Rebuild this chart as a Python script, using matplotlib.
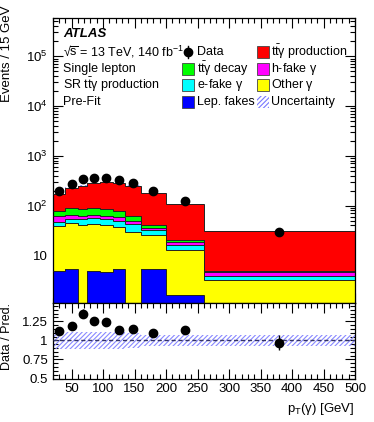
import numpy as np
import matplotlib
matplotlib.use("Agg")
import matplotlib.pyplot as plt
from matplotlib.patches import Rectangle
from matplotlib.ticker import FixedLocator, MultipleLocator, NullFormatter, FuncFormatter

plt.rcParams['font.family'] = ['Liberation Sans', 'DejaVu Sans']
plt.rcParams['mathtext.fontset'] = 'custom'
plt.rcParams['mathtext.rm'] = 'Liberation Sans'
plt.rcParams['mathtext.it'] = 'Liberation Sans'
plt.rcParams['mathtext.bf'] = 'Liberation Sans:bold'
plt.rcParams['hatch.linewidth'] = 0.8

# ---- data ----
bin_edges = [20, 40, 60, 75, 95, 115, 135, 160, 200, 260, 500]
lep_fakes = [4.8, 5.4, 0.0, 4.8, 4.6, 5.3, 0.0, 5.4, 1.6, 0.0]
other_gamma = [33.7, 38.3, 41.0, 37.5, 36.4, 31.7, 30.0, 19.6, 11.0, 3.16]
efake_gamma = [7.9, 10.3, 13.0, 14.7, 13.0, 12.5, 13.0, 6.6, 3.2, 0.7]
hfake_gamma = [14.6, 12.0, 9.0, 9.0, 9.0, 8.5, 6.5, 4.4, 2.7, 0.74]
tty_decay = [18.0, 22.5, 23.0, 25.0, 23.0, 20.0, 11.5, 5.0, 2.1, 0.2]
tty_prod = [92.0, 141.0, 165.0, 189.0, 207.0, 206.0, 190.0, 138.0, 87.4, 26.2]
data_x = [30, 50, 67.5, 85, 105, 125, 147.5, 180, 230, 380]
data_y = [193, 272, 339, 352, 363, 321, 287, 197, 123, 30]
data_err = [8, 10, 14, 12, 12, 11, 10, 8, 6, 3]
unc_rel = [0.11, 0.11, 0.11, 0.11, 0.11, 0.11, 0.10, 0.068, 0.068, 0.068]

components = [
    ("Lep. fakes", lep_fakes, "#0000ff"),
    ("Other $\\gamma$", other_gamma, "#ffff00"),
    ("e-fake $\\gamma$", efake_gamma, "#00ffff"),
    ("h-fake $\\gamma$", hfake_gamma, "#ff00ff"),
    ("$\\mathrm{t\\bar{t}}\\gamma$ decay", tty_decay, "#00ff00"),
    ("$\\mathrm{t\\bar{t}}\\gamma$ production", tty_prod, "#ff0000"),
]

HATCH = '///////'
edges = np.array(bin_edges, dtype=float)
W, H = 374, 422
fig = plt.figure(figsize=(W / 100, H / 100), dpi=100)

L, R = 52.7, 355.0
T_main, B_main, B_rat = 17.5, 303.0, 378.5
ax = fig.add_axes([L / W, (H - B_main) / H, (R - L) / W, (B_main - T_main) / H])
axr = fig.add_axes([L / W, (H - B_rat) / H, (R - L) / W, (B_rat - B_main) / H])

ymin = 1.1
base = np.full(len(edges) - 1, 0.0)
for name, vals, col in components:
    v = np.array(vals, dtype=float)
    top = base + v
    lo = np.where(base <= 0, ymin * 0.5, base)
    ax.stairs(top, edges, baseline=lo, fill=True, facecolor=col, edgecolor='none', zorder=2)
    ax.stairs(top, edges, baseline=None, color='#222222', lw=0.7, zorder=3)
    base = top
total = base

# uncertainty band on main panel
unc = np.array(unc_rel)
for i in range(len(total)):
    ax.fill_between([edges[i], edges[i + 1]], total[i] * (1 - unc[i] * 0.08), total[i] * (1 + unc[i] * 0.08),
                    facecolor='none', edgecolor='#7777ff', hatch=HATCH, lw=0, zorder=4)

ax.errorbar(data_x, data_y, yerr=data_err, fmt='o', color='black', ms=6, elinewidth=1, capsize=0, zorder=6)

ax.set_yscale('log')
ax.set_xlim(20, 500)
ax.set_ylim(ymin, 6e5)

def logfmt(v, pos):
    e = int(round(np.log10(v)))
    if e == 1:
        return "10"
    return "$10^{%d}$" % e
ax.yaxis.set_major_locator(FixedLocator([10, 100, 1e3, 1e4, 1e5]))
ax.yaxis.set_major_formatter(FuncFormatter(logfmt))
ax.yaxis.set_minor_locator(matplotlib.ticker.LogLocator(base=10, subs=np.arange(2, 10), numticks=20))
ax.yaxis.set_minor_formatter(NullFormatter())
ax.xaxis.set_major_locator(MultipleLocator(50))
ax.xaxis.set_minor_locator(MultipleLocator(10))
ax.tick_params(axis='x', labelbottom=False)
for a in (ax, axr):
    a.tick_params(which='both', direction='in', top=True, right=True, labelsize=9.5)
    a.tick_params(which='major', length=7, width=0.8)
    a.tick_params(which='minor', length=3.5, width=0.8)
    for s in a.spines.values():
        s.set_linewidth(0.9)

# axis titles (ROOT style: top aligned)
fig.text(7 / W, 1 - 5 / H, "Events / 15 GeV", rotation=90, ha='center', va='top', fontsize=9.5)
fig.text(7 / W, 1 - B_main / H, "Data / Pred.", rotation=90, ha='center', va='top', fontsize=9)

# text block
FS = 9
ax.text(0.034, 0.942, "ATLAS", transform=ax.transAxes, fontsize=9.5, fontweight='bold', style='italic', va='center')
lines = ["\u221a$\\overline{\\mathrm{s}}$ = 13 TeV, 140 fb$^{-1}$", "Single lepton",
         "SR $\\mathrm{t\\bar{t}}\\gamma$ production", "Pre-Fit"]
rows_px = [52, 69, 85, 102]
rows = [(B_main - p) / (B_main - T_main) for p in rows_px]
for y, t in zip(rows, lines):
    ax.text(0.034, y, t, transform=ax.transAxes, fontsize=FS, va='center')

# legend (manual)
def fx(px):
    return (px - L) / (R - L)
bh = 11.5 / (B_main - T_main)
legend_entries = [
    (0, 0, "Data", None),
    (1, 0, "$\\mathrm{t\\bar{t}}\\gamma$ production", "#ff0000"),
    (0, 1, "$\\mathrm{t\\bar{t}}\\gamma$ decay", "#00ff00"),
    (1, 1, "h-fake $\\gamma$", "#ff00ff"),
    (0, 2, "e-fake $\\gamma$", "#00ffff"),
    (1, 2, "Other $\\gamma$", "#ffff00"),
    (0, 3, "Lep. fakes", "#0000ff"),
    (1, 3, "Uncertainty", "hatch"),
]
box_x = [fx(182), fx(257)]
txt_x = [fx(197), fx(271)]
bw = 11.5 / (R - L)
for c, r, lab, col in legend_entries:
    y = rows[r]
    if col is None:
        ax.plot([box_x[c] + bw / 2], [y], 'o', color='black', ms=6, transform=ax.transAxes, clip_on=False, zorder=7)
        ax.plot([box_x[c] + bw / 2] * 2, [y - bh / 2, y + bh / 2], '-', color='black', lw=1, transform=ax.transAxes, zorder=7)
    elif col == 'hatch':
        ax.add_patch(Rectangle((box_x[c], y - bh / 2), bw, bh, transform=ax.transAxes, facecolor='none',
                               edgecolor='#7777ff', hatch=HATCH, lw=0, zorder=7))
    else:
        ax.add_patch(Rectangle((box_x[c], y - bh / 2), bw, bh, transform=ax.transAxes, facecolor=col,
                               edgecolor='#444444', lw=0.6, zorder=7))
    ax.text(txt_x[c], y, lab, transform=ax.transAxes, fontsize=FS, va='center')

# ratio panel
ratio = np.array(data_y) / total
ratio_err = np.array(data_err) / total
for i in range(len(total)):
    axr.fill_between([edges[i], edges[i + 1]], 1 - unc[i], 1 + unc[i], facecolor='none', edgecolor='#8888ff',
                     hatch=HATCH, lw=0, zorder=2)
axr.axhline(1.0, color='#333366', lw=1, ls=(0, (3, 2)), zorder=3)
axr.errorbar(data_x, ratio, yerr=ratio_err, fmt='o', color='black', ms=6, elinewidth=1, capsize=0, zorder=5)
axr.set_xlim(20, 500)
axr.set_ylim(0.5, 1.49)
axr.yaxis.set_major_locator(FixedLocator([0.5, 0.75, 1.0, 1.25]))
axr.yaxis.set_major_formatter(FuncFormatter(lambda v, p: {0.5: "0.5", 0.75: "0.75", 1.0: "1", 1.25: "1.25"}.get(round(v, 2), "")))
axr.yaxis.set_minor_locator(MultipleLocator(0.05))
axr.xaxis.set_major_locator(MultipleLocator(50))
axr.xaxis.set_minor_locator(MultipleLocator(10))
axr.xaxis.set_major_formatter(FuncFormatter(lambda v, p: "%d" % v if v >= 50 else ""))
axr.set_xlabel("p$_{\\mathrm{T}}$($\\gamma$) [GeV]", loc='right', fontsize=9.5)

fig.savefig("out.png", dpi=100)
